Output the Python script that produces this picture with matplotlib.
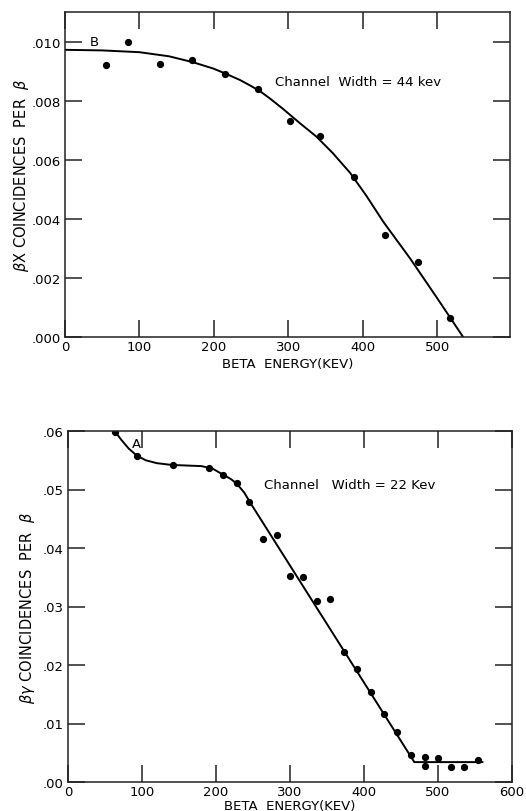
import matplotlib
matplotlib.use("Agg")
import matplotlib.pyplot as plt

# ---- Panel B (beta-X coincidences, channel width 44 keV) ----
b_energy = [55, 84, 128, 171, 215, 259, 302, 343, 389, 430, 475, 518]
b_coinc = [0.00919, 0.00998, 0.00924, 0.00936, 0.00890, 0.00840, 0.00731,
           0.00679, 0.00541, 0.00346, 0.00254, 0.00064]
b_curve_x = [0, 50, 100, 140, 172, 200, 217, 235, 249, 262, 275, 293, 315,
             338, 360, 383, 405, 428, 464, 500, 535]
b_curve_y = [0.00972, 0.00970, 0.00964, 0.00950, 0.00930, 0.00908, 0.00890,
             0.00870, 0.00851, 0.00832, 0.00808, 0.00772, 0.00725, 0.00678,
             0.00622, 0.00556, 0.00478, 0.00389, 0.00265, 0.00132, 0.0000]

# ---- Panel A (beta-gamma coincidences, channel width 22 keV) ----
a_energy = [63, 93, 142, 190, 210, 228, 245, 263, 283, 300, 318, 337, 354,
            373, 391, 409, 427, 445, 464, 482, 482, 500, 517, 535, 554]
a_coinc = [0.0598, 0.0557, 0.0542, 0.0537, 0.0524, 0.0511, 0.0478, 0.0416,
           0.0422, 0.0352, 0.0351, 0.0310, 0.0313, 0.0223, 0.0193, 0.0153,
           0.0117, 0.0085, 0.0047, 0.0043, 0.0027, 0.0041, 0.0026, 0.0025,
           0.0037]
a_curve_x = [63, 72, 82, 93, 105, 120, 140, 160, 180, 195, 210, 220, 228,
             238, 248, 468, 560]
a_curve_y = [0.0600, 0.0585, 0.0570, 0.0558, 0.0550, 0.0545, 0.0542, 0.0541,
             0.0540, 0.0536, 0.0525, 0.0518, 0.0510, 0.0495, 0.0474, 0.0034,
             0.0034]

b_xticks = [0, 100, 200, 300, 400, 500]
b_yticks = [0.000, 0.002, 0.004, 0.006, 0.008, 0.010]
b_yticklabels = [".000", ".002", ".004", ".006", ".008", ".010"]
a_xticks = [0, 100, 200, 300, 400, 500, 600]
a_yticks = [0.00, 0.01, 0.02, 0.03, 0.04, 0.05, 0.06]
a_yticklabels = [".00", ".01", ".02", ".03", ".04", ".05", ".06"]

plt.rcParams['font.family'] = ['DejaVu Sans']
plt.rcParams['mathtext.fontset'] = 'dejavusans'

fig = plt.figure(figsize=(5.26, 8.12), dpi=100)
fs = 9.5

def style(ax, xticks, yticks, yticklabels):
    for s in ax.spines.values():
        s.set_linewidth(1.1)
        s.set_color('#222222')
    ax.set_xticks(xticks)
    ax.set_xticklabels([str(t) for t in xticks], fontsize=fs)
    ax.set_yticks(yticks)
    ax.set_yticklabels(yticklabels, fontsize=fs)
    ax.tick_params(axis='both', direction='in', length=12, width=1.1,
                   top=True, right=True, pad=3, color='#222222')
    ax.tick_params(axis='x', pad=2)

# Top panel
ax1 = fig.add_axes([65/526, 1-338/812, (510-65)/526, (338-13)/812])
ax1.plot(b_curve_x, b_curve_y, color='black', lw=1.4)
ax1.plot(b_energy, b_coinc, 'o', color='black', ms=4.2)
ax1.set_xlim(0, 598)
ax1.set_ylim(0, 0.011)
style(ax1, b_xticks, b_yticks, b_yticklabels)
ax1.text(40, 0.0100, "B", fontsize=fs, ha='center', va='center')
ax1.text(282, 0.00865, "Channel  Width = 44 kev", fontsize=fs, ha='left', va='center')
ax1.set_xlabel("BETA  ENERGY(KEV)", fontsize=fs, labelpad=3)
ax1.set_ylabel(r"$\beta$X COINCIDENCES  PER  $\beta$", fontsize=fs + 1, labelpad=0)

# Bottom panel
ax2 = fig.add_axes([68/526, 1-783/812, (512-68)/526, (783-432)/812])
ax2.plot(a_curve_x, a_curve_y, color='black', lw=1.4)
ax2.plot(a_energy, a_coinc, 'o', color='black', ms=4.2)
ax2.set_xlim(0, 600)
ax2.set_ylim(0, 0.06)
style(ax2, a_xticks, a_yticks, a_yticklabels)
ax2.text(92, 0.0578, "A", fontsize=fs, ha='center', va='center')
ax2.text(265, 0.0508, "Channel   Width = 22 Kev", fontsize=fs, ha='left', va='center')
ax2.set_xlabel("BETA  ENERGY(KEV)", fontsize=fs, labelpad=1)
ax2.set_ylabel(r"$\beta\gamma$ COINCIDENCES  PER  $\beta$", fontsize=fs + 1, labelpad=4)

fig.savefig("out.png", dpi=100)
